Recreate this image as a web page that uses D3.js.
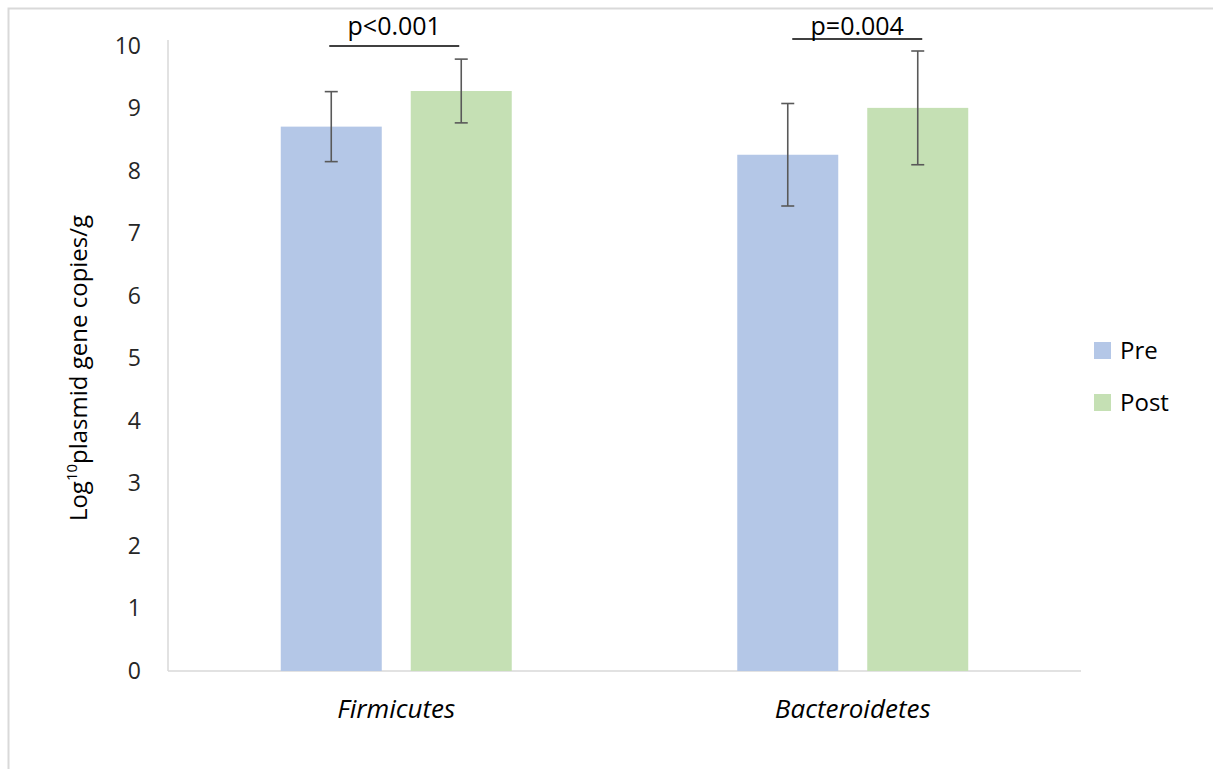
<!DOCTYPE html>
<html>
<head>
<meta charset="utf-8">
<script src="https://cdn.jsdelivr.net/npm/d3@7"></script>
<style>
  html, body { margin: 0; padding: 0; background: #fff; }
  svg text { font-family: "Open Sans", "Liberation Sans", sans-serif; }
</style>
</head>
<body>
<svg id="chart" width="1213" height="769"></svg>
<script>
// Plasmid gene copies before and after, by phylum
const categories = ["Firmicutes", "Bacteroidetes"];
const seriesNames = ["Pre", "Post"];
const preValues = [8.71, 8.26];
const postValues = [9.28, 9.01];
const preErrors = [0.56, 0.82];
const postErrors = [0.51, 0.91];
const pValueLabels = ["p<0.001", "p=0.004"];
const yTicks = [0, 1, 2, 3, 4, 5, 6, 7, 8, 9, 10];

const colors = { Pre: "#b4c7e7", Post: "#c5e0b4" };

const rows = categories.map((c, i) => ({
  category: c,
  bars: [
    { series: "Pre", value: preValues[i], err: preErrors[i] },
    { series: "Post", value: postValues[i], err: postErrors[i] }
  ],
  p: pValueLabels[i]
}));

const svg = d3.select("#chart");
const W = 1213, H = 769;
const plot = { left: 168, right: 1081, top: 40, bottom: 671 };

// outer frame (top and left edges)
svg.append("path")
  .attr("d", `M8.5,${H} L8.5,8.5 L${W},8.5`)
  .attr("fill", "none").attr("stroke", "#d9d9d9").attr("stroke-width", 2);

const y = d3.scaleLinear().domain([0, 10]).range([plot.bottom, 46]);
const x0 = d3.scaleBand().domain(categories)
  .range([plot.left, plot.right]).paddingInner(0.494).paddingOuter(0.247);
const x1 = d3.scaleBand().domain(seriesNames)
  .range([0, x0.bandwidth()]).paddingInner(0.223);

// axes lines
svg.append("line")
  .attr("x1", plot.left).attr("x2", plot.left)
  .attr("y1", plot.top).attr("y2", plot.bottom)
  .attr("stroke", "#d9d9d9").attr("stroke-width", 1.5);
svg.append("line")
  .attr("x1", plot.left).attr("x2", plot.right)
  .attr("y1", plot.bottom).attr("y2", plot.bottom)
  .attr("stroke", "#d9d9d9").attr("stroke-width", 1.5);

// y axis tick labels
const yAxis = svg.append("g")
  .attr("transform", `translate(${plot.left},0)`)
  .call(d3.axisLeft(y).tickValues(yTicks).tickSize(0).tickPadding(27));
yAxis.select(".domain").remove();
yAxis.selectAll("text")
  .attr("font-size", 23).attr("fill", "#262626")
  .style("font-family", "'Open Sans', sans-serif");

// y axis title
const yTitle = svg.append("text")
  .attr("transform", `translate(87,368) rotate(-90)`)
  .attr("text-anchor", "middle")
  .attr("font-size", 24).attr("fill", "#000");
yTitle.append("tspan").text("Log");
yTitle.append("tspan").text("10").attr("font-size", 15).attr("dy", -10);
yTitle.append("tspan").text("plasmid gene copies/g").attr("dy", 10);

// bars
const groups = svg.selectAll("g.cat").data(rows).join("g")
  .attr("class", "cat")
  .attr("transform", d => `translate(${x0(d.category)},0)`);

groups.selectAll("rect").data(d => d.bars).join("rect")
  .attr("x", d => x1(d.series))
  .attr("width", x1.bandwidth())
  .attr("y", d => y(d.value))
  .attr("height", d => y(0) - y(d.value))
  .attr("fill", d => colors[d.series]);

// error bars
const eb = groups.selectAll("g.err").data(d => d.bars).join("g")
  .attr("class", "err")
  .attr("stroke", "#595959").attr("stroke-width", 1.6);
const cx = d => x1(d.series) + x1.bandwidth() / 2;
eb.append("line")
  .attr("x1", cx).attr("x2", cx)
  .attr("y1", d => y(d.value + d.err)).attr("y2", d => y(d.value - d.err));
eb.append("line")
  .attr("x1", d => cx(d) - 6.5).attr("x2", d => cx(d) + 6.5)
  .attr("y1", d => y(d.value + d.err)).attr("y2", d => y(d.value + d.err));
eb.append("line")
  .attr("x1", d => cx(d) - 6.5).attr("x2", d => cx(d) + 6.5)
  .attr("y1", d => y(d.value - d.err)).attr("y2", d => y(d.value - d.err));

// significance brackets above each pair
const bracketY = [46, 39];
const bracketShift = [-2, 4.5];
groups.each(function (d, i) {
  const g = d3.select(this);
  const xa = x1("Pre") + x1.bandwidth() / 2 + bracketShift[i];
  const xb = x1("Post") + x1.bandwidth() / 2 + bracketShift[i];
  g.append("line")
    .attr("x1", xa).attr("x2", xb)
    .attr("y1", bracketY[i]).attr("y2", bracketY[i])
    .attr("stroke", "#000").attr("stroke-width", 1.6);
  g.append("text")
    .attr("x", (xa + xb) / 2).attr("y", 35)
    .attr("text-anchor", "middle")
    .attr("font-size", 25).attr("fill", "#000")
    .text(d.p);
});

// category labels
svg.selectAll("text.cat").data(categories).join("text")
  .attr("class", "cat")
  .attr("x", d => x0(d) + x0.bandwidth() / 2)
  .attr("y", 718)
  .attr("text-anchor", "middle")
  .attr("font-size", 26).attr("font-style", "italic").attr("fill", "#000")
  .text(d => d);

// legend
const legend = svg.selectAll("g.leg").data(seriesNames).join("g")
  .attr("class", "leg")
  .attr("transform", (d, i) => `translate(1094,${342 + i * 52})`);
legend.append("rect").attr("width", 17).attr("height", 17)
  .attr("fill", d => colors[d]);
legend.append("text").attr("x", 26).attr("y", 17)
  .attr("font-size", 24).attr("fill", "#000").text(d => d);
</script>
</body>
</html>
